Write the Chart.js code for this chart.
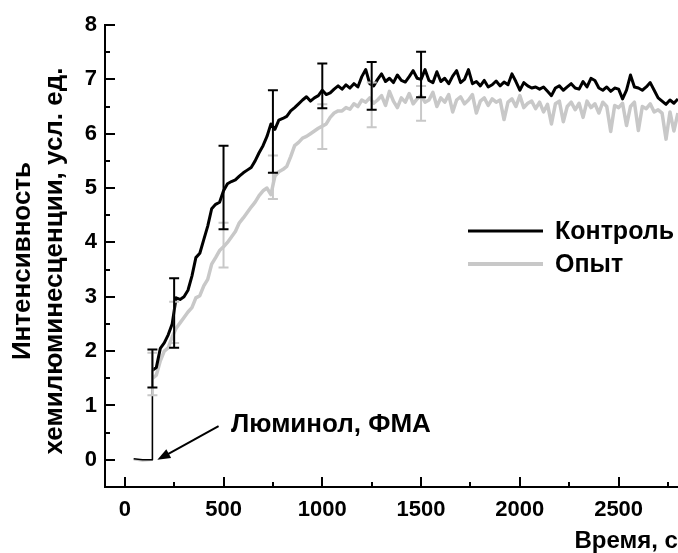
<!DOCTYPE html>
<html>
<head>
<meta charset="utf-8">
<script src="https://cdn.jsdelivr.net/npm/chart.js@4.4.0/dist/chart.umd.min.js"></script>
<style>
    html, body { margin: 0; padding: 0; background: #fff; }
    #chart { display: block; }
</style>
</head>
<body>
<canvas id="chart" width="678" height="553"></canvas>
<script>

var seriesNames = ['Контроль', 'Опыт'];
var seriesColors = ['#000000', '#c8c8c8'];

// flat part before luminol / PMA is added
var baseTimes = [45, 90, 139];
var controlBase = [0.02, 0.0, 0.0];
var expBase = [0.0, -0.02, -0.01];

// readings every 20 s starting at 140 s
var sampleStart = 140;
var sampleStep = 20;

var controlValues = [
    1.65, 1.70, 2.05, 2.15, 2.30, 2.50, 2.98, 2.95, 3.00, 3.12,
    3.38, 3.72, 3.80, 4.05, 4.30, 4.62, 4.70, 4.74, 4.95, 5.08,
    5.12, 5.15, 5.22, 5.28, 5.33, 5.38, 5.50, 5.65, 5.78, 5.95,
    6.18, 6.08, 6.25, 6.28, 6.32, 6.42, 6.48, 6.55, 6.62, 6.68,
    6.60, 6.66, 6.70, 6.80, 6.72, 6.75, 6.82, 6.88,
    6.82, 6.90, 6.84, 6.92, 6.86, 7.05, 7.18, 6.92, 6.88, 7.00,
    7.10, 6.96, 7.02, 6.94, 7.08, 6.98, 6.95, 7.05, 7.16, 7.02,
    7.00, 7.18, 6.98, 6.94, 7.14, 6.96, 7.02, 6.92, 7.06, 7.16,
    6.94, 7.00, 7.18, 6.92, 6.96, 6.88, 6.98, 6.86, 6.90, 6.97,
    6.88, 6.95, 6.90, 7.10, 6.96, 6.80, 6.94, 6.88, 6.84, 6.86,
    6.82, 6.86, 6.78, 6.70, 6.84, 6.88, 6.80, 6.86, 6.92, 6.84,
    6.82, 6.96, 6.86, 7.02, 6.98, 6.84, 6.80, 6.86, 6.78, 6.84,
    6.82, 6.64, 6.80, 7.08, 6.86, 6.84, 6.80, 6.86, 6.94, 6.80,
    6.66, 6.60, 6.54, 6.62, 6.56, 6.64
];

var expValues = [
    1.50, 1.56, 1.82, 2.00, 2.06, 2.26, 2.42, 2.52, 2.62, 2.72,
    2.80, 2.98, 3.02, 3.20, 3.32, 3.60, 3.72, 3.85, 3.92, 4.00,
    4.10, 4.20, 4.36, 4.45, 4.55, 4.65, 4.74, 4.86, 4.95, 5.00,
    4.88, 5.22, 5.30, 5.34, 5.40, 5.58, 5.78, 5.84, 5.92, 5.95,
    6.00, 6.05, 6.10, 6.14, 6.18, 6.30, 6.38, 6.42,
    6.42, 6.48, 6.45, 6.55, 6.50, 6.62, 6.58, 6.66, 6.56, 6.62,
    6.70, 6.52, 6.78, 6.60, 6.48, 6.66, 6.58, 6.74, 6.55, 6.64,
    6.70, 6.58, 6.62, 6.76, 6.50, 6.66, 6.58, 6.72, 6.40, 6.62,
    6.68, 6.55, 6.62, 6.72, 6.38, 6.60, 6.66, 6.52, 6.64, 6.58,
    6.62, 6.26, 6.58, 6.64, 6.50, 6.70, 6.48, 6.56, 6.60, 6.46,
    6.58, 6.40, 6.54, 6.18, 6.55, 6.60, 6.22, 6.50, 6.58, 6.44,
    6.56, 6.30, 6.60, 6.48, 6.55, 6.38, 6.58, 6.50, 6.04, 6.52,
    6.48, 6.56, 6.15, 6.50, 6.58, 6.06, 6.50, 6.46, 6.55, 6.40,
    6.44, 6.38, 5.90, 6.40, 6.05, 6.38
];

// error bars (mean +/- sd)
var errTimes = [140, 250, 500, 750, 1000, 1250, 1500];
var controlErrMean = [1.68, 2.70, 5.01, 6.04, 6.88, 6.88, 7.09];
var controlErrSd = [0.35, 0.64, 0.77, 0.76, 0.41, 0.44, 0.42];
var expErrMean = [1.58, 2.53, 3.95, 5.20, 6.13, 6.53, 6.56];
var expErrSd = [0.39, 0.38, 0.41, 0.40, 0.41, 0.41, 0.32];

var xTickLabels = [0, 500, 1000, 1500, 2000, 2500];
var yTickLabels = [0, 1, 2, 3, 4, 5, 6, 7, 8];

var xTitle = 'Время, с';
var yTitle = ['Интенсивность', 'хемилюминесценции, усл. ед.'];
var noteText = 'Люминол, ФМА';

var fontFamily = '"Liberation Sans", Arial, sans-serif';

function toPoints(base, values) {
    var pts = [];
    for (var i = 0; i < baseTimes.length; i++) {
        pts.push({x: baseTimes[i], y: base[i]});
    }
    for (var j = 0; j < values.length; j++) {
        pts.push({x: sampleStart + j * sampleStep, y: values[j]});
    }
    return pts;
}

// thin line for the baseline and the jump
function thinStart(ctx) {
    return ctx.p1DataIndex <= baseTimes.length ? 1.5 : undefined;
}

var insideTicks = {
    id: 'insideTicks',
    afterDraw: function (chart) {
        var ctx = chart.ctx;
        var xs = chart.scales.x, ys = chart.scales.y;
        var area = chart.chartArea;
        ctx.save();
        ctx.strokeStyle = '#000';
        ctx.lineWidth = 2;
        ctx.beginPath();
        xs.ticks.forEach(function (t) {
            if (t.value < 0) return;
            var len = xTickLabels.indexOf(t.value) >= 0 ? 10 : 5;
            var px = Math.round(xs.getPixelForValue(t.value));
            ctx.moveTo(px, area.bottom);
            ctx.lineTo(px, area.bottom - len);
        });
        ys.ticks.forEach(function (t) {
            if (t.value < 0) return;
            var len = yTickLabels.indexOf(t.value) >= 0 ? 10 : 5;
            var py = Math.round(ys.getPixelForValue(t.value));
            ctx.moveTo(area.left, py);
            ctx.lineTo(area.left + len, py);
        });
        ctx.stroke();
        ctx.restore();
    }
};

var errorBars = {
    id: 'errorBars',
    afterDatasetsDraw: function (chart) {
        var ctx = chart.ctx;
        var xs = chart.scales.x, ys = chart.scales.y;

        function draw(mean, sd, color) {
            ctx.save();
            ctx.strokeStyle = color;
            ctx.lineWidth = 2;
            ctx.beginPath();
            for (var i = 0; i < errTimes.length; i++) {
                var px = xs.getPixelForValue(errTimes[i]);
                var top = ys.getPixelForValue(mean[i] + sd[i]);
                var bot = ys.getPixelForValue(mean[i] - sd[i]);
                ctx.moveTo(px, top);
                ctx.lineTo(px, bot);
                ctx.moveTo(px - 5, top);
                ctx.lineTo(px + 5, top);
                ctx.moveTo(px - 5, bot);
                ctx.lineTo(px + 5, bot);
            }
            ctx.stroke();
            ctx.restore();
        }

        draw(expErrMean, expErrSd, seriesColors[1]);
        draw(controlErrMean, controlErrSd, seriesColors[0]);
    }
};

var extras = {
    id: 'extras',
    afterDraw: function (chart) {
        var ctx = chart.ctx;
        var xs = chart.scales.x, ys = chart.scales.y;

        ctx.save();
        ctx.fillStyle = '#000';

        // y axis title, two rotated lines
        ctx.font = 'bold 26px ' + fontFamily;
        ctx.textAlign = 'center';
        ctx.textBaseline = 'middle';
        for (var i = 0; i < yTitle.length; i++) {
            ctx.save();
            ctx.translate(23 + i * 32, 261);
            ctx.rotate(-Math.PI / 2);
            ctx.fillText(yTitle[i], 0, 0);
            ctx.restore();
        }

        // legend
        var legendY = [231, 264];
        var widths = [3, 4];
        ctx.font = 'bold 25px ' + fontFamily;
        ctx.textAlign = 'left';
        for (var k = 0; k < seriesNames.length; k++) {
            ctx.strokeStyle = seriesColors[k];
            ctx.lineWidth = widths[k];
            ctx.beginPath();
            ctx.moveTo(468, legendY[k]);
            ctx.lineTo(543, legendY[k]);
            ctx.stroke();
            ctx.fillStyle = '#000';
            ctx.fillText(seriesNames[k], 555, legendY[k] + 1);
        }

        // arrow with note
        var tipX = xs.getPixelForValue(165), tipY = ys.getPixelForValue(0);
        var tailX = xs.getPixelForValue(475), tailY = ys.getPixelForValue(0.62);
        var ang = Math.atan2(tipY - tailY, tipX - tailX);
        ctx.strokeStyle = '#000';
        ctx.lineWidth = 2;
        ctx.beginPath();
        ctx.moveTo(tailX, tailY);
        ctx.lineTo(tipX - 10 * Math.cos(ang), tipY - 10 * Math.sin(ang));
        ctx.stroke();
        ctx.beginPath();
        ctx.moveTo(tipX, tipY);
        ctx.lineTo(tipX - 13 * Math.cos(ang) + 5 * Math.sin(ang), tipY - 13 * Math.sin(ang) - 5 * Math.cos(ang));
        ctx.lineTo(tipX - 13 * Math.cos(ang) - 5 * Math.sin(ang), tipY - 13 * Math.sin(ang) + 5 * Math.cos(ang));
        ctx.closePath();
        ctx.fill();

        ctx.font = 'bold 26px ' + fontFamily;
        ctx.textAlign = 'left';
        ctx.fillText(noteText, xs.getPixelForValue(538), ys.getPixelForValue(0.64));

        ctx.restore();
    }
};

Chart.defaults.font.family = fontFamily;
Chart.defaults.font.weight = 'bold';
Chart.defaults.color = '#000';

var chart = new Chart(document.getElementById('chart'), {
    type: 'line',
    data: {
        datasets: [
            {
                label: seriesNames[0],
                data: toPoints(controlBase, controlValues),
                borderColor: seriesColors[0],
                borderWidth: 3,
                borderJoinStyle: 'round',
                pointRadius: 0,
                tension: 0,
                order: 0,
                segment: {borderWidth: thinStart}
            },
            {
                label: seriesNames[1],
                data: toPoints(expBase, expValues),
                borderColor: seriesColors[1],
                borderWidth: 3.5,
                borderJoinStyle: 'round',
                pointRadius: 0,
                tension: 0,
                order: 1,
                segment: {borderWidth: thinStart}
            }
        ]
    },
    options: {
        responsive: false,
        animation: false,
        events: [],
        layout: {padding: {top: 25, right: 0, left: 0, bottom: 0}},
        plugins: {
            legend: {display: false},
            tooltip: {enabled: false}
        },
        scales: {
            x: {
                type: 'linear',
                min: -100,
                max: 2800,
                grid: {display: false, drawTicks: false},
                border: {display: true, color: '#000', width: 2},
                ticks: {
                    stepSize: 250,
                    includeBounds: false,
                    autoSkip: false,
                    maxRotation: 0,
                    padding: 10,
                    font: {size: 22, weight: 'bold'},
                    callback: function (v) {
                        return xTickLabels.indexOf(v) >= 0 ? String(v) : '';
                    }
                },
                title: {
                    display: true,
                    text: xTitle,
                    align: 'end',
                    font: {size: 24, weight: 'bold', lineHeight: 1.0},
                    padding: {top: 0, bottom: 0}
                },
                afterFit: function (scale) { scale.height = 66; }
            },
            y: {
                min: -0.5,
                max: 8,
                grid: {display: false, drawTicks: false},
                border: {display: true, color: '#000', width: 2},
                ticks: {
                    stepSize: 0.5,
                    includeBounds: false,
                    autoSkip: false,
                    padding: 8,
                    font: {size: 22, weight: 'bold'},
                    callback: function (v) {
                        return yTickLabels.indexOf(v) >= 0 ? String(v) : '';
                    }
                },
                afterFit: function (scale) { scale.width = 105; }
            }
        }
    },
    plugins: [insideTicks, errorBars, extras]
});

</script>
</body>
</html>
